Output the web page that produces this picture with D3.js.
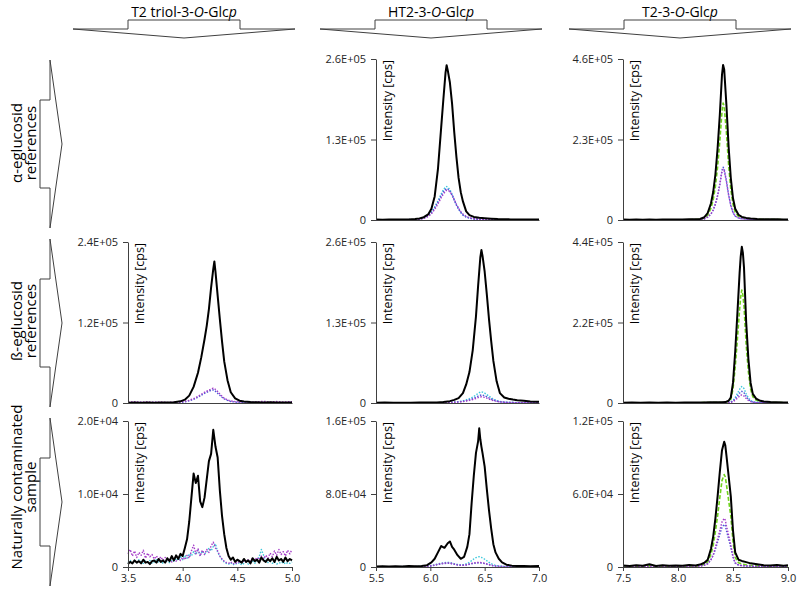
<!DOCTYPE html>
<html>
<head>
<meta charset="utf-8">
<script src="https://cdn.jsdelivr.net/npm/d3@7"></script>
<style>
  body { margin: 0; background: #fff; }
  svg { font-family: "Open Sans", sans-serif; }
</style>
</head>
<body>
<div id="chart"></div>
<script>
// ---------- data ----------

// column titles, odd parts are italic
const columnTitles = [
  ['T2 triol-3-', 'O', '-Glc', 'p'],
  ['HT2-3-', 'O', '-Glc', 'p'],
  ['T2-3-', 'O', '-Glc', 'p']
];
const rowTitles = [
  ['α-eglucosid', 'references'],
  ['ß-eglucosid', 'references'],
  ['Naturally contaminated', 'sample']
];
const yLabel = 'Intensity [cps]';

const xDomains = [[3.5, 5.0], [5.5, 7.0], [7.5, 9.0]];
const xTickValues = [[3.5, 4.0, 4.5, 5.0], [5.5, 6.0, 6.5, 7.0], [7.5, 8.0, 8.5, 9.0]];

// y ticks per panel (row, col)
const yTicksAlphaHT2 = [0, 1.3e5, 2.6e5];
const yTicksAlphaT2 = [0, 2.3e5, 4.6e5];
const yTicksBetaTriol = [0, 1.2e5, 2.4e5];
const yTicksBetaHT2 = [0, 1.3e5, 2.6e5];
const yTicksBetaT2 = [0, 2.2e5, 4.4e5];
const yTicksNatTriol = [0, 1.0e4, 2.0e4];
const yTicksNatHT2 = [0, 8.0e4, 1.6e5];
const yTicksNatT2 = [0, 6.0e4, 1.2e5];

// alpha references, HT2-3-O-Glcp
const tAlphaHT2 = [5.50,5.56,5.62,5.68,5.74,5.80,5.86,5.90,5.94,5.98,6.01,6.04,6.07,6.10,6.12,6.14,6.15,6.16,6.18,6.20,6.22,6.24,6.26,6.28,6.30,6.33,6.36,6.40,6.45,6.50,6.56,6.62,6.68,6.74,6.80,6.86,6.92,7.00];
const alphaHT2Black = [800,600,900,700,1000,800,1500,2500,4500,9000,18000,38000,82000,150000,195000,238000,250000,242000,222000,188000,142000,102000,68000,45000,30000,14000,8000,5000,3500,3000,2200,1500,1200,1000,800,900,700,800];
const alphaHT2Cyan = [500,300,600,400,500,700,600,1500,3500,7500,13000,21000,31000,42000,49000,53000,54000,53000,49000,42000,33000,25000,18000,12500,8500,5000,3000,1800,1200,900,700,500,600,400,500,300,500,400];
const alphaHT2Blue = [400,500,300,600,400,500,700,1300,3000,6800,12000,19500,29000,39000,45500,49500,50500,50000,46500,40000,32000,24000,17500,12000,8000,4800,2800,1700,1100,800,600,700,400,500,300,600,400,500];
const alphaHT2Purple = [300,600,400,500,300,700,500,1100,2500,5500,10000,17000,26000,36000,42000,46500,48000,48000,46000,40500,33000,25500,19000,13500,9500,5800,3500,2000,1300,900,700,400,600,300,500,400,600,300];

// alpha references, T2-3-O-Glcp
const tAlphaT2 = [7.50,7.56,7.62,7.68,7.74,7.80,7.86,7.92,7.98,8.04,8.10,8.16,8.20,8.24,8.27,8.30,8.32,8.34,8.36,8.38,8.40,8.41,8.42,8.44,8.46,8.48,8.50,8.52,8.55,8.58,8.62,8.66,8.72,8.78,8.84,8.90,8.96,9.00];
const alphaT2Black = [1200,900,1500,1000,1300,800,1400,1100,1600,1200,1800,2200,3000,8000,20000,48000,80000,130000,205000,300000,415000,443000,430000,330000,210000,120000,62000,32000,15000,9000,6000,4500,3000,2500,1800,2000,1300,1200];
const alphaT2Green = [600,500,800,400,700,500,600,800,500,700,900,1200,1800,5000,14000,34000,58000,96000,152000,225000,310000,334000,325000,250000,158000,88000,45000,22000,10000,6000,3500,2500,1800,1400,1000,1200,800,900];
const alphaT2Blue = [300,400,200,500,300,400,300,500,400,600,500,800,1200,3200,8000,17000,28000,45000,70000,103000,142000,151000,146000,112000,72000,41000,21000,11000,5500,3500,2200,1500,1000,800,600,700,500,400];
const alphaT2Purple = [400,300,500,300,400,200,500,300,400,500,700,900,1300,3500,8500,18000,29000,46000,69000,100000,138000,145000,141000,110000,71000,42000,22000,11500,6000,3800,2400,1600,1100,900,700,500,600,400];

// beta references, T2 triol-3-O-Glcp
const tBetaTriol = [3.50,3.56,3.62,3.68,3.74,3.80,3.86,3.92,3.98,4.02,4.06,4.10,4.14,4.17,4.20,4.22,4.24,4.26,4.28,4.29,4.30,4.32,4.34,4.36,4.38,4.41,4.44,4.48,4.52,4.56,4.62,4.68,4.74,4.80,4.86,4.92,5.00];
const betaTriolBlack = [500,800,400,700,500,900,600,1200,2500,5000,11000,24000,45000,68000,95000,115000,140000,172000,200000,211000,196000,160000,125000,92000,62000,34000,16000,7000,3500,2200,1500,1100,900,1200,700,900,800];
const betaTriolBlue = [600,400,700,500,800,400,600,500,900,1800,3200,5500,8500,11500,14500,16000,17500,19000,19500,19000,17500,14500,11500,8500,6000,3800,2300,1400,900,600,800,500,700,400,600,500,700];
const betaTriolPurple = [1500,2000,1200,1800,1000,1500,900,1300,1500,2500,4000,6500,10000,13000,16000,17500,19000,21000,22000,21500,20000,17000,13500,10000,7000,4500,3000,2000,1500,2000,1200,1800,2500,1500,2200,1500,2000];

// beta references, HT2-3-O-Glcp
const tBetaHT2 = [5.50,5.58,5.66,5.74,5.82,5.90,5.98,6.06,6.12,6.18,6.22,6.26,6.30,6.33,6.36,6.39,6.42,6.44,6.46,6.47,6.48,6.50,6.52,6.54,6.56,6.58,6.61,6.64,6.68,6.72,6.76,6.80,6.86,6.92,7.00];
const betaHT2Black = [500,700,400,600,500,800,700,900,1500,3000,5000,8000,16000,30000,50000,85000,140000,190000,235000,247000,238000,212000,175000,135000,100000,68000,35000,16000,9000,7000,5500,4500,3500,2500,2000];
const betaHT2Cyan = [300,500,200,400,300,500,400,600,700,1000,1500,2200,3500,5000,7000,9500,13000,15500,17500,18000,17500,16000,13500,11000,8500,6000,4000,2500,1500,1000,800,600,500,400,300];
const betaHT2Blue = [300,200,400,300,500,300,500,400,700,900,1300,1900,2800,3900,5300,7000,9400,11200,12600,13000,12700,11600,10000,8200,6500,4800,3300,2100,1300,900,700,500,600,400,500];
const betaHT2Purple = [200,400,300,500,200,400,300,500,600,800,1200,1600,2300,3200,4300,5600,7200,8600,9700,10000,9800,9000,7800,6500,5200,4000,2800,1800,1200,900,700,500,400,500,300];

// beta references, T2-3-O-Glcp
const tBetaT2 = [7.50,7.58,7.66,7.74,7.82,7.90,7.98,8.06,8.14,8.22,8.30,8.36,8.40,8.43,8.46,8.48,8.50,8.52,8.54,8.56,8.57,8.58,8.59,8.60,8.62,8.64,8.66,8.68,8.71,8.74,8.78,8.84,8.90,8.96,9.00];
const betaT2Black = [1000,1400,900,1200,800,1300,1000,1500,1200,1600,1800,2000,2200,2500,6000,15000,55000,140000,245000,355000,400000,427000,410000,370000,220000,120000,55000,25000,12000,7000,4000,2500,2000,1500,1200];
const betaT2Green = [500,700,400,600,300,700,500,800,600,900,1000,1200,1300,1500,4000,10000,38000,98000,175000,255000,290000,309000,295000,265000,158000,85000,38000,17000,8000,4500,2500,1500,1200,900,700];
const betaT2Cyan = [300,500,200,400,300,500,400,600,400,700,800,900,1000,1200,1800,3000,7000,15000,26000,37000,42000,45000,43500,39000,25000,14000,7000,3500,2000,1200,800,600,500,400,300];
const betaT2Blue = [300,200,400,300,500,300,400,500,300,600,700,800,900,1000,1500,2300,5200,11000,19000,27000,30500,32000,31000,28000,18000,10000,5000,2600,1500,900,600,500,400,500,300];
const betaT2Purple = [200,400,300,200,400,300,500,300,400,500,600,700,800,900,1200,1800,3800,7800,13000,18500,21000,22000,21300,19000,12500,7200,3700,2000,1200,800,600,400,500,300,400];

// naturally contaminated sample, T2 triol-3-O-Glcp
const tNatTriol = [3.50,3.52,3.54,3.56,3.58,3.60,3.62,3.64,3.66,3.68,3.70,3.72,3.74,3.76,3.78,3.80,3.82,3.84,3.86,3.88,3.90,3.92,3.94,3.96,3.98,4.00,4.02,4.04,4.06,4.08,4.10,4.12,4.14,4.16,4.18,4.20,4.22,4.24,4.26,4.28,4.30,4.32,4.34,4.36,4.38,4.40,4.42,4.44,4.46,4.48,4.50,4.52,4.54,4.56,4.58,4.60,4.62,4.64,4.66,4.68,4.70,4.72,4.74,4.76,4.78,4.80,4.82,4.84,4.86,4.88,4.90,4.92,4.94,4.96,4.98,5.00];
const natTriolBlack = [400,700,500,900,600,800,500,1000,600,700,400,800,900,600,1100,700,900,600,1200,800,1500,900,1600,1100,1800,1500,2600,3800,6200,9500,12800,11500,12500,9000,8200,9500,12000,14500,15500,18800,16500,15000,10500,7000,4500,2600,1500,1000,1300,700,1000,800,600,1100,700,900,500,1200,800,1000,600,1300,900,700,1100,800,1200,700,1400,900,1100,700,1300,800,1100,900];
const natTriolCyan = [600,900,500,800,600,1000,700,500,800,600,900,500,700,1000,600,800,500,900,700,600,1000,800,1200,900,1400,1000,1600,1200,1800,1500,2100,1700,2300,1600,2200,1800,2000,2600,2200,2800,3200,2000,1500,1000,700,500,400,600,300,500,400,600,300,500,700,400,600,800,500,900,1400,2400,1600,900,600,800,500,700,400,600,500,700,400,600,500,700];
const natTriolPurple = [1800,2400,1500,2200,1300,2000,1600,2300,1200,1900,1400,1700,1100,1500,1000,1400,900,1300,800,1200,700,1000,800,1200,900,1300,1000,1600,1200,2200,3000,1800,2500,1500,2300,1700,2400,2000,2900,3400,2600,2200,1500,1100,800,600,500,700,400,600,500,800,600,900,700,1000,800,1200,900,1300,1000,1500,1100,1600,1200,1900,1400,2200,1600,2400,1700,2100,1500,2300,1800,2400];

// naturally contaminated sample, HT2-3-O-Glcp
const tNatHT2 = [5.50,5.56,5.62,5.68,5.74,5.80,5.86,5.92,5.97,6.01,6.04,6.07,6.10,6.13,6.16,6.18,6.20,6.22,6.25,6.28,6.31,6.34,6.36,6.38,6.40,6.42,6.44,6.45,6.46,6.47,6.48,6.50,6.52,6.54,6.56,6.58,6.60,6.63,6.66,6.70,6.75,6.80,6.86,6.92,7.00];
const natHT2Black = [600,900,500,800,600,1000,700,1200,2000,5000,9000,16000,23000,21000,26000,28000,22000,19000,13000,9000,11000,22000,36000,70000,100000,125000,138000,152000,140000,132000,125000,110000,85000,62000,42000,25000,16000,9000,5000,2500,1500,1200,1000,800,1000];
const natHT2Cyan = [300,500,200,400,300,500,400,600,900,1600,2500,3400,4200,4800,5000,4800,4300,3600,2800,2400,2600,3800,5200,7000,8800,10200,11000,11300,11000,10500,9800,8500,6800,5000,3600,2500,1700,1100,700,500,400,500,300,400,300];
const natHT2Blue = [300,200,400,300,500,300,500,400,700,1200,1900,2700,3400,3900,4100,4000,3600,3000,2300,1800,1900,2400,3000,3600,4000,4300,4500,4600,4500,4300,4100,3700,3100,2400,1800,1300,1000,700,500,400,300,200,400,300,200];
const natHT2Purple = [200,400,300,500,200,400,300,500,800,1400,2200,3000,3800,4300,4500,4300,3800,3200,2400,1900,2000,2600,3300,4000,4500,4800,5000,5100,5000,4800,4600,4100,3400,2700,2000,1500,1100,800,600,400,300,400,200,300,400];

// naturally contaminated sample, T2-3-O-Glcp
const tNatT2 = [7.50,7.56,7.62,7.68,7.74,7.80,7.86,7.92,7.98,8.04,8.10,8.16,8.20,8.24,8.27,8.30,8.32,8.34,8.36,8.38,8.40,8.42,8.43,8.44,8.46,8.48,8.50,8.52,8.55,8.58,8.62,8.66,8.72,8.78,8.84,8.90,8.96,9.00];
const natT2Black = [1200,800,1500,1000,2200,900,1400,1100,1300,1000,1600,1200,2000,3500,6000,15000,25000,40000,58000,78000,96000,103000,100000,92000,75000,58000,30000,12000,6000,5000,4000,3000,2200,1500,1200,1600,1000,1500];
const natT2Green = [500,700,400,600,900,500,700,400,600,500,800,600,1000,2200,4200,10500,18000,29000,42000,57000,71000,76000,74000,68000,55000,42000,21000,8000,3500,2500,1800,1200,900,700,500,800,400,600];
const natT2Blue = [400,300,500,200,400,300,500,400,300,600,400,700,900,1600,2800,6000,9500,14500,20500,27000,32500,35000,34000,30000,23000,16000,8000,3000,1500,1000,800,600,400,300,500,300,400,300];
const natT2Purple = [300,500,200,400,300,600,400,300,500,400,600,500,800,1500,2500,6000,10000,16000,23000,30000,37000,40000,38500,34000,26000,18000,9000,3500,1800,1200,900,700,500,400,300,500,200,400];

// ---------- styles and layout ----------
const traceStyles = {
  black:  { color: '#000000', width: 2,   dash: null },
  green:  { color: '#6fd21e', width: 1.6, dash: '4,2' },
  cyan:   { color: '#3cc8dc', width: 1.4, dash: '1.5,1.5' },
  blue:   { color: '#4a5ad8', width: 1.4, dash: '1.5,1.5' },
  purple: { color: '#a43cc8', width: 1.4, dash: '1.5,1.5' }
};

const colX = [[128, 292], [376, 539], [623, 788]];
const rowY = [[59, 220], [242, 403], [421, 567]];
const headerX = [184, 431, 680];
const sideY = [144, 323, 502];
const sideTextY = [143, 321, 487];

// build the panel table from the arrays above
const panels = [
  { row: 0, col: 1, t: tAlphaHT2, yTicks: yTicksAlphaHT2,
    traces: [['cyan', alphaHT2Cyan], ['blue', alphaHT2Blue], ['purple', alphaHT2Purple], ['black', alphaHT2Black]] },
  { row: 0, col: 2, t: tAlphaT2, yTicks: yTicksAlphaT2,
    traces: [['green', alphaT2Green], ['blue', alphaT2Blue], ['purple', alphaT2Purple], ['black', alphaT2Black]] },
  { row: 1, col: 0, t: tBetaTriol, yTicks: yTicksBetaTriol,
    traces: [['blue', betaTriolBlue], ['purple', betaTriolPurple], ['black', betaTriolBlack]] },
  { row: 1, col: 1, t: tBetaHT2, yTicks: yTicksBetaHT2,
    traces: [['cyan', betaHT2Cyan], ['blue', betaHT2Blue], ['purple', betaHT2Purple], ['black', betaHT2Black]] },
  { row: 1, col: 2, t: tBetaT2, yTicks: yTicksBetaT2,
    traces: [['green', betaT2Green], ['cyan', betaT2Cyan], ['blue', betaT2Blue], ['purple', betaT2Purple], ['black', betaT2Black]] },
  { row: 2, col: 0, t: tNatTriol, yTicks: yTicksNatTriol,
    traces: [['cyan', natTriolCyan], ['purple', natTriolPurple], ['black', natTriolBlack]] },
  { row: 2, col: 1, t: tNatHT2, yTicks: yTicksNatHT2,
    traces: [['cyan', natHT2Cyan], ['blue', natHT2Blue], ['purple', natHT2Purple], ['black', natHT2Black]] },
  { row: 2, col: 2, t: tNatT2, yTicks: yTicksNatT2,
    traces: [['green', natT2Green], ['blue', natT2Blue], ['purple', natT2Purple], ['black', natT2Black]] }
];

// excel style 2.6E+05
function fmtE(v) {
  if (v === 0) return '0';
  const [m, e] = v.toExponential(1).split('e');
  return m + 'E' + e[0] + e.slice(1).padStart(2, '0');
}

const svg = d3.select('#chart').append('svg')
  .attr('width', 798)
  .attr('height', 592);

const lineColor = '#404040';

// column headers with the bracket shape under them
columnTitles.forEach((parts, i) => {
  const cx = headerX[i];
  const txt = svg.append('text')
    .attr('x', cx).attr('y', 17)
    .attr('text-anchor', 'middle')
    .style('font-size', '14px')
    .style('fill', '#000');
  parts.forEach((p, j) => {
    txt.append('tspan').text(p).style('font-style', j % 2 ? 'italic' : 'normal');
  });
  const pts = [[cx - 111, 29], [cx - 56, 29], [cx - 56, 20], [cx + 56, 20],
               [cx + 56, 29], [cx + 111, 29], [cx, 38]];
  svg.append('path')
    .attr('d', d3.line()(pts) + 'Z')
    .attr('fill', 'none')
    .attr('stroke', lineColor)
    .attr('stroke-width', 1);
});

// row labels with the arrow shape next to them
rowTitles.forEach((lines, i) => {
  const cy = sideY[i];
  lines.forEach((l, j) => {
    svg.append('text')
      .attr('transform', `translate(${22 + j * 14},${sideTextY[i]}) rotate(-90)`)
      .attr('text-anchor', 'middle')
      .style('font-size', '15px')
      .style('fill', '#000')
      .text(l);
  });
  const pts = [[50, cy - 84], [50, cy - 44], [40, cy - 44], [40, cy + 44],
               [50, cy + 44], [50, cy + 84], [62, cy]];
  svg.append('path')
    .attr('d', d3.line()(pts) + 'Z')
    .attr('fill', 'none')
    .attr('stroke', lineColor)
    .attr('stroke-width', 1);
});

// the chromatogram panels
panels.forEach(p => {
  const [x0, x1] = colX[p.col];
  const [y0, y1] = rowY[p.row];
  const w = x1 - x0;
  const h = y1 - y0;
  const g = svg.append('g').attr('transform', `translate(${x0},${y0})`);

  const x = d3.scaleLinear().domain(xDomains[p.col]).range([0, w]);
  const y = d3.scaleLinear().domain([0, d3.max(p.yTicks)]).range([h, 0]);

  // traces, coloured ones first and black on top
  p.traces.forEach(([key, vals]) => {
    const st = traceStyles[key];
    const line = d3.line()
      .x((d, i) => x(p.t[i]))
      .y(d => y(d));
    g.append('path')
      .datum(vals)
      .attr('d', line)
      .attr('fill', 'none')
      .attr('stroke', st.color)
      .attr('stroke-width', st.width)
      .attr('stroke-dasharray', st.dash)
      .attr('stroke-linejoin', 'round');
  });

  // x axis, labels only on the bottom row
  const xAxis = d3.axisBottom(x).tickSizeOuter(0);
  if (p.row === 2) {
    xAxis.tickValues(xTickValues[p.col]).tickFormat(d3.format('.1f')).tickSize(4).tickPadding(3);
  } else {
    xAxis.tickValues([]);
  }
  const gx = g.append('g')
    .attr('transform', `translate(0,${h})`)
    .call(xAxis);

  const yAxis = d3.axisLeft(y)
    .tickValues(p.yTicks)
    .tickFormat(fmtE)
    .tickSize(5)
    .tickPadding(5)
    .tickSizeOuter(0);
  const gy = g.append('g').call(yAxis);

  [gx, gy].forEach(a => {
    a.select('.domain').attr('stroke', lineColor);
    a.selectAll('.tick line').attr('stroke', lineColor);
    a.selectAll('.tick text')
      .style('font-family', '"Open Sans", sans-serif')
      .style('font-size', '11px')
      .style('fill', '#262626');
  });

  // y title inside the plot, next to the axis
  g.append('text')
    .attr('transform', 'translate(16,1) rotate(-90)')
    .attr('text-anchor', 'end')
    .style('font-size', '12.5px')
    .style('fill', '#000')
    .text(yLabel);
});
</script>
</body>
</html>
